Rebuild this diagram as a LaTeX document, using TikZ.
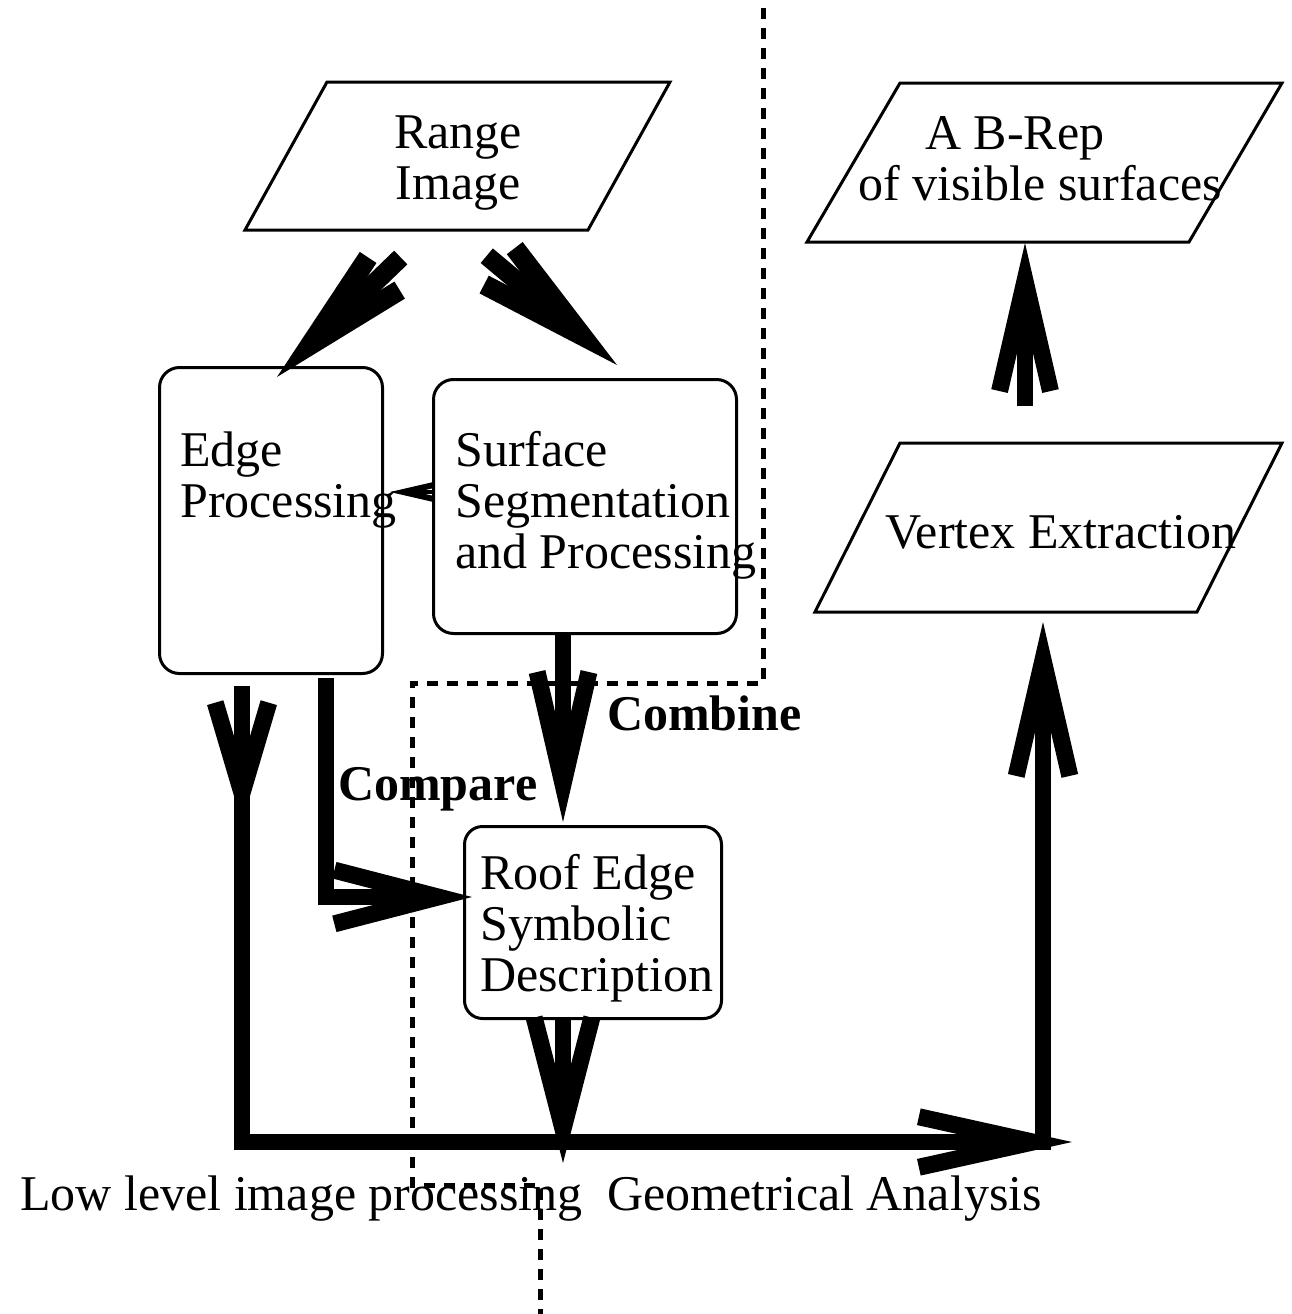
\documentclass[tikz,border=0pt]{standalone}
\usepackage{fontspec}
\setmainfont{Liberation Serif}
\usetikzlibrary{calc}

% Fat arrow head built from two thick barbs meeting in a sharp tip.
% #1 tip, #2 direction from the tip back along the shaft, #3 barb length,
% #4 half opening angle, #5 barb width
\newcommand\fathead[5]{%
  \fill (#1) -- ($(#1)+(#2+#4:#3)$) -- ($(#1)+(#2+#4:#3)+(#2+#4-90:#5)$)
    -- ($(#1)+(#2:{#5/sin(#4)})$)
    -- ($(#1)+(#2-#4:#3)+(#2-#4+90:#5)$) -- ($(#1)+(#2-#4:#3)$) -- cycle;}

\begin{document}
\begin{tikzpicture}[x=1pt,y=-1pt,
  frame/.style={draw, line width=3pt, line join=miter},
  box/.style={frame, rounded corners=20pt, inner sep=0pt, anchor=north west},
  txt/.style={font=\fontsize{50}{51}\selectfont, inner sep=0pt, align=left, anchor=base west},
  tag/.style={txt, font=\fontsize{50}{51}\selectfont\bfseries},
  shaft/.style={line width=16pt, line join=miter},
  sep/.style={line width=5pt, dash pattern=on 11pt off 9pt}]
\useasboundingbox (0,0) rectangle (1292,1314);

% ---- separating dashed border between the processing stages
\draw[sep] (763,8) -- (763,683) -- (412,683) -- (412,1185) -- (540,1185) -- (540,1314);

% ---- input / output parallelograms (text anchored at the last baseline)
\draw[frame] (245,230) -- (327,82) -- (670,82) -- (588,230) -- cycle;
\node[txt, align=center, anchor=base] (range) at (458,199) {Range\\Image};

\draw[frame] (807,242) -- (900,83) -- (1282,83) -- (1189,242) -- cycle;
\node[txt] (brep) at (858,200) {\hspace*{67pt}A B-Rep\\of visible surfaces};

\draw[frame] (815,612) -- (900,443) -- (1282,443) -- (1197,612) -- cycle;
\node[txt] (vertex) at (885,548) {Vertex Extraction};

% ---- processing boxes
\node[box, minimum width=223pt, minimum height=306pt] (edge) at (158,366) {};
\node[txt] (edgetxt) at (180,517) {Edge\\Processing};

\node[box, minimum width=303pt, minimum height=254pt] (surf) at (432,378) {};
\node[txt] (surftxt) at (455,568) {Surface\\Segmentation\\and Processing};

\node[box, rounded corners=18pt, minimum width=257pt, minimum height=192pt] (roof) at (463,825) {};
\node[txt] (rooftxt) at (480,991) {Roof Edge\\Symbolic\\Description};

% ---- labels
\node[tag] (combine) at (607,730) {Combine};
\node[tag] (compare) at (338,800) {Compare};
\node[txt] (low) at (20,1210) {Low level image processing};
\node[txt] (geom) at (607,1210) {Geometrical Analysis};

% ---- arrow tips
\coordinate (tE) at (277,377);
\coordinate (tS) at (617,365);
\coordinate (tSE) at (390,492);
\coordinate (tL) at (242,823);
\coordinate (tC) at (472,897);
\coordinate (tCo) at (563,822);
\coordinate (tR) at (563,1163);
\coordinate (tH) at (1072,1142);
\coordinate (tV) at (1043,622);
\coordinate (tB) at (1025,243);

% Range Image -> Edge Processing
\draw[line width=19pt] ($(tE)+(-44:172)$) -- ($(tE)+(-44:50)$);
\fathead{tE}{-44}{150}{12.5}{20}
% Range Image -> Surface Segmentation
\draw[line width=19pt] ($(tS)+(-140:170)$) -- ($(tS)+(-140:50)$);
\fathead{tS}{-140}{155}{12.5}{20}
% Surface Segmentation -> Edge Processing
\draw[line width=4pt] (surf.west |- tSE) -- ($(tSE)+(0:10)$);
\fathead{tSE}{0}{44}{13}{6}

% Edge Processing -> low level stage -> Geometrical Analysis
\draw[shaft] ($(edge.south west)+(84,11)$) |- ($(tH)+(180:45)$);
\fathead{tL}{-90}{123}{16.5}{17}
\fathead{tH}{180}{155}{12.5}{17}

% Compare
\draw[shaft] ($(edge.south west)+(168,3)$) |- ($(tC)+(180:45)$);
\fathead{tC}{180}{140}{14.5}{17}

% Combine
\draw[shaft] (surf.south -| tCo) -- ($(tCo)+(-90:45)$);
\fathead{tCo}{-90}{152}{13}{17}

% Roof Edge description -> main line
\draw[shaft] (roof.south -| tR) -- ($(tR)+(-90:45)$);
\fathead{tR}{-90}{148}{14.5}{17}

% up to Vertex Extraction
\draw[shaft] (1043,1150) -- ($(tV)+(90:45)$);
\fathead{tV}{90}{156}{13}{17}

% Vertex Extraction -> B-Rep
\draw[shaft] ($(tB)+(90:163)$) -- ($(tB)+(90:45)$);
\fathead{tB}{90}{150}{13}{17}
\end{tikzpicture}
\end{document}
